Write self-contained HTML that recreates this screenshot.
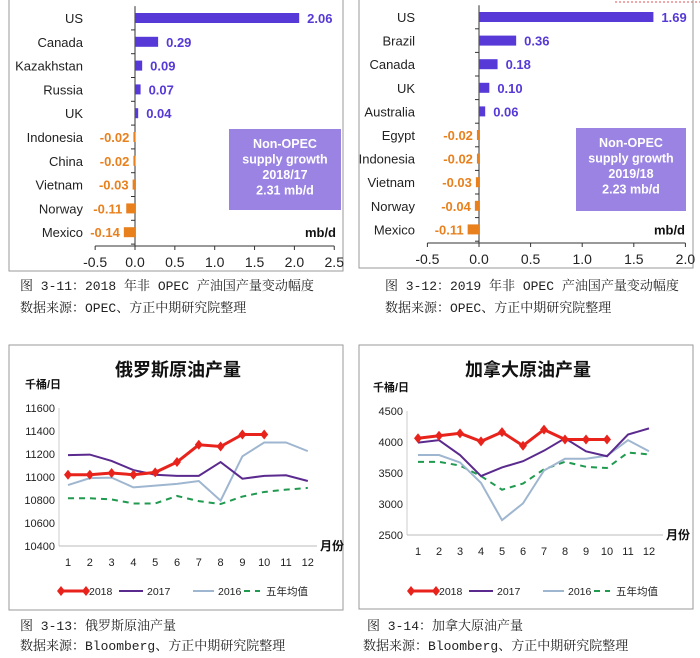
<!DOCTYPE html>
<html><head><meta charset="utf-8"><style>
body{margin:0;background:#fff;width:700px;height:658px;overflow:hidden}
svg{display:block}
text{font-family:"Liberation Sans","Noto Sans CJK SC",sans-serif}
.cap{font-family:"Liberation Mono","Noto Serif CJK SC",serif;font-size:13px;fill:#222}
</style></head><body>
<svg id="s" width="700" height="658" viewBox="0 0 700 658">
<line x1="615" y1="2" x2="700" y2="2" stroke="#e05050" stroke-dasharray="2,2"/>
<rect x="9" y="-2" width="334" height="273" fill="none" stroke="#999"/>
<rect x="359" y="-2" width="334" height="270" fill="none" stroke="#999"/>
<rect x="9" y="345" width="334" height="265" fill="none" stroke="#999"/>
<rect x="359" y="345" width="334" height="264" fill="none" stroke="#999"/>
<text class="cap" x="20" y="290">图 3-11：2018 年非 OPEC 产油国产量变动幅度</text>
<text class="cap" x="20" y="312">数据来源：OPEC、方正中期研究院整理</text>
<text class="cap" x="385" y="290">图 3-12：2019 年非 OPEC 产油国产量变动幅度</text>
<text class="cap" x="385" y="312">数据来源：OPEC、方正中期研究院整理</text>
<text class="cap" x="20" y="630">图 3-13：俄罗斯原油产量</text>
<text class="cap" x="20" y="650">数据来源：Bloomberg、方正中期研究院整理</text>
<text class="cap" x="367" y="630">图 3-14：加拿大原油产量</text>
<text class="cap" x="363" y="650">数据来源：Bloomberg、方正中期研究院整理</text>
</svg>
<script>
const cats1 = ["US","Canada","Kazakhstan","Russia","UK","Indonesia","China","Vietnam","Norway","Mexico"];
const vals1 = [2.06,0.29,0.09,0.07,0.04,-0.02,-0.02,-0.03,-0.11,-0.14];
const labels1 = ["2.06","0.29","0.09","0.07","0.04","-0.02","-0.02","-0.03","-0.11","-0.14"];
const ticks1 = [-0.5,0,0.5,1,1.5,2,2.5];
const tickLabels1 = ["-0.5","0.0","0.5","1.0","1.5","2.0","2.5"];
const box1 = ["Non-OPEC","supply growth","2018/17","2.31 mb/d"];
const cats2 = ["US","Brazil","Canada","UK","Australia","Egypt","Indonesia","Vietnam","Norway","Mexico"];
const vals2 = [1.69,0.36,0.18,0.10,0.06,-0.02,-0.02,-0.03,-0.04,-0.11];
const labels2 = ["1.69","0.36","0.18","0.10","0.06","-0.02","-0.02","-0.03","-0.04","-0.11"];
const ticks2 = [-0.5,0,0.5,1,1.5,2];
const tickLabels2 = ["-0.5","0.0","0.5","1.0","1.5","2.0"];
const box2 = ["Non-OPEC","supply growth","2019/18","2.23 mb/d"];
const months = [1,2,3,4,5,6,7,8,9,10,11,12];
const ru2018 = [11020,11020,11035,11020,11040,11130,11280,11265,11370,11370];
const ru2017 = [11190,11195,11140,11060,11020,11010,11010,11130,10985,11010,11015,10965];
const ru2016 = [10930,10990,10995,10910,10925,10940,10965,10795,11180,11300,11300,11225];
const ru5yr = [10815,10815,10805,10770,10770,10835,10790,10765,10830,10870,10890,10905];
const ruTicks = [10400,10600,10800,11000,11200,11400,11600];
const ca2018 = [4060,4100,4140,4010,4160,3940,4200,4040,4040,4040];
const ca2017 = [3990,4030,3790,3450,3590,3690,3860,4060,3850,3770,4120,4220];
const ca2016 = [3790,3790,3670,3340,2740,3010,3540,3730,3730,3780,4030,3850];
const ca5yr = [3680,3680,3620,3450,3230,3330,3560,3680,3600,3580,3830,3800];
const caTicks = [2500,3000,3500,4000,4500];
const legendNames = ["2018","2017","2016","五年均值"];

const S=document.getElementById('s');
const NS='http://www.w3.org/2000/svg';
function mk(tag,attrs,txt){const e=document.createElementNS(NS,tag);for(const k in attrs)e.setAttribute(k,attrs[k]);if(txt!==undefined)e.textContent=txt;S.appendChild(e);return e;}

function barChart(o){
  const sx=v=>o.zx+v*o.ppu;
  const sy=i=>o.y0+i*o.step;
  let e=mk('line',{x1:sx(o.ticks[0]),x2:sx(o.ticks[o.ticks.length-1]),y1:o.axisY,y2:o.axisY,stroke:'#333'});
  
  
  e=mk('line',{x1:o.zx,x2:o.zx,y1:sy(0)-o.step/2,y2:o.axisY,stroke:'#333'});
  
  
  o.ticks.forEach((t,i)=>{
    mk('line',{x1:sx(t),x2:sx(t),y1:o.axisY,y2:o.axisY+4,stroke:'#333'});
    e=mk('text',{x:sx(t),y:o.axisY+21,'text-anchor':'middle','font-size':14,fill:'#222'},o.tickLabels[i]);
    
    
  });
  o.cats.forEach((c,i)=>{
    const y=sy(i),v=o.vals[i];
    mk('line',{x1:o.zx-4,x2:o.zx,y1:y+o.step/2,y2:y+o.step/2,stroke:'#333'});
    e=mk('text',{x:o.lx,y:y+5,'text-anchor':'end','font-size':13,fill:'#222'},c);
    
    
    const pos=v>=0,col=pos?'#5639d6':'#e8801e';
    const x1=Math.min(sx(0),sx(v)),w=Math.max(Math.abs(sx(v)-sx(0)),2);
    e=mk('rect',{x:x1,y:y-5,width:w,height:10,fill:col});
    
    
    e=mk('text',{x:pos?sx(v)+8:x1-4,y:y+5,'text-anchor':pos?'start':'end','font-size':13,'font-weight':'bold',fill:col},o.labels[i]);
    
    
  });
  e=mk('rect',{x:o.box[0],y:o.box[1],width:o.box[2],height:o.box[3],fill:'#9a83e3'});
  
  
  o.boxText.forEach((t,i)=>{
    e=mk('text',{x:o.box[0]+o.box[2]/2,y:o.box[1]+19+i*15.5,'text-anchor':'middle','font-size':12.5,'font-weight':'bold',fill:'#fff'},t);
    
    
  });
  e=mk('text',{x:o.unitX,y:sy(9)+5,'text-anchor':'end','font-size':13,'font-weight':'bold',fill:'#111'},'mb/d');
  
  
}
barChart({id:'chart-3-11',cats:cats1,vals:vals1,labels:labels1,ticks:ticks1,tickLabels:tickLabels1,boxText:box1,zx:135,ppu:79.7,y0:18,step:23.8,axisY:246,lx:83,box:[229,129,112,81],unitX:336});
barChart({id:'chart-3-12',cats:cats2,vals:vals2,labels:labels2,ticks:ticks2,tickLabels:tickLabels2,boxText:box2,zx:479,ppu:103.2,y0:17,step:23.6,axisY:243,lx:415,box:[576,128,110,83],unitX:685});

function lineChart(o){
  const sx=m=>o.x1+(m-1)*o.mstep;
  const sy=v=>o.yBot-(v-o.ticks[0])/(o.ticks[o.ticks.length-1]-o.ticks[0])*(o.yBot-o.yTop);
  let e=mk('text',{x:o.cx,y:o.titleY,'text-anchor':'middle','font-size':18,'font-weight':'bold',fill:'#111'},o.title);
  
  
  e=mk('text',{x:o.ax-34,y:o.yTop-20,'font-size':11,'font-weight':'bold',fill:'#111'},'千桶/日');
  
  
  e=mk('line',{x1:o.ax,x2:o.ax,y1:o.yTop,y2:o.yBot,stroke:'#ccc'});
  
  
  e=mk('line',{x1:o.ax,x2:o.axEnd,y1:o.yBot,y2:o.yBot,stroke:'#bbb'});
  
  
  e=mk('text',{x:o.axEnd+3,y:o.yBot+4,'font-size':12,'font-weight':'bold',fill:'#111'},'月份');
  
  
  o.ticks.forEach(t=>{
    e=mk('text',{x:o.ax-4,y:sy(t)+4,'text-anchor':'end','font-size':11,fill:'#222'},String(t));
    
    
  });
  months.forEach(m=>{
    e=mk('text',{x:sx(m),y:o.xlY,'text-anchor':'middle','font-size':11,fill:'#222','font-family':'Liberation Serif,serif'},String(m));
    
    
  });
  const pts=a=>a.map((v,i)=>sx(months[i])+','+sy(v)).join(' ');
  e=mk('polyline',{points:pts(o.s5),fill:'none',stroke:'#1f9a4f','stroke-width':2,'stroke-dasharray':'6,5'});
  
  
  e=mk('polyline',{points:pts(o.s16),fill:'none',stroke:'#9fb6d0','stroke-width':2});
  
  
  e=mk('polyline',{points:pts(o.s17),fill:'none',stroke:'#5b2a8e','stroke-width':2});
  
  
  e=mk('polyline',{points:pts(o.s18),fill:'none',stroke:'#e8231c','stroke-width':3});
  
  
  o.s18.forEach((v,i)=>{
    const x=sx(months[i]),y=sy(v);
    e=mk('polygon',{points:`${x},${y-5} ${x+4},${y} ${x},${y+5} ${x-4},${y}`,fill:'#e8231c'});
    
    
  });
  const lx=o.legX,ly=o.legY;
  const legs=[[0,25,28,'#e8231c',3,null],[58,24,28,'#5b2a8e',2,null],[132,21,25,'#9fb6d0',2,null],[183,16,22,'#1f9a4f',2,'6,5']];
  legs.forEach((L,i)=>{
    const a={x1:lx+L[0],x2:lx+L[0]+L[1],y1:ly,y2:ly,stroke:L[3],'stroke-width':L[4]};
    if(L[5])a['stroke-dasharray']=L[5];
    e=mk('line',a);
    
    
    if(i===0){
      mk('polygon',{points:`${lx},${ly-5} ${lx+4},${ly} ${lx},${ly+5} ${lx-4},${ly}`,fill:'#e8231c'});
      mk('polygon',{points:`${lx+25},${ly-5} ${lx+29},${ly} ${lx+25},${ly+5} ${lx+21},${ly}`,fill:'#e8231c'});
    }
    e=mk('text',{x:lx+L[0]+L[2],y:ly+4,'font-size':10.5,fill:'#222'},legendNames[i]);
    
    
  });
}
lineChart({id:'chart-3-13',title:'俄罗斯原油产量',cx:178,titleY:376,ax:59,axEnd:317,yTop:408,yBot:546,x1:68,mstep:21.8,xlY:566,ticks:ruTicks,s18:ru2018,s17:ru2017,s16:ru2016,s5:ru5yr,legX:61,legY:591});
lineChart({id:'chart-3-14',title:'加拿大原油产量',cx:528,titleY:376,ax:407,axEnd:663,yTop:411,yBot:535,x1:418,mstep:21,xlY:555,ticks:caTicks,s18:ca2018,s17:ca2017,s16:ca2016,s5:ca5yr,legX:411,legY:591});
</script>
</body></html>
